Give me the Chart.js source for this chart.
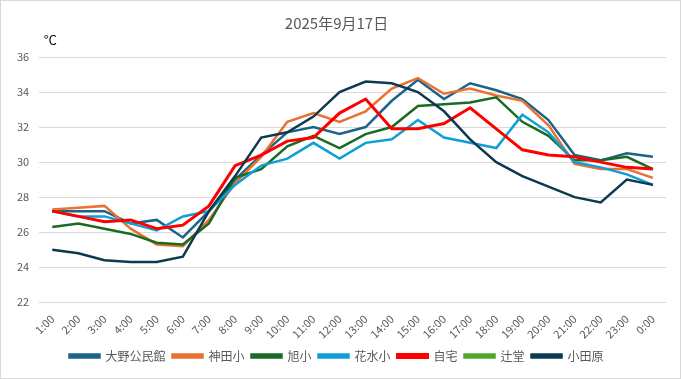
<!DOCTYPE html>
<html>
<head>
<meta charset="utf-8">
<script src="https://cdn.jsdelivr.net/npm/chart.js@4.4.1/dist/chart.umd.min.js"></script>
<style>
  html, body { margin: 0; padding: 0; background: #fff; }
  #wrap { position: relative; width: 681px; height: 379px; box-sizing: border-box; border: 1px solid #d9d9d9; }
</style>
</head>
<body>
<div id="wrap"><canvas id="chart"></canvas></div>
<script>
const hours = ['1:00', '2:00', '3:00', '4:00', '5:00', '6:00', '7:00', '8:00', '9:00', '10:00', '11:00', '12:00',
  '13:00', '14:00', '15:00', '16:00', '17:00', '18:00', '19:00', '20:00', '21:00', '22:00', '23:00', '0:00']

const ohno = [27.2, 27.2, 27.2, 26.5, 26.7, 25.7, 27.2, 29.0, 30.4, 31.7, 32.0, 31.6,
  32.0, 33.5, 34.7, 33.6, 34.5, 34.1, 33.6, 32.4, 30.4, 30.1, 30.5, 30.3]
const kanda = [27.3, 27.4, 27.5, 26.2, 25.3, 25.2, 26.7, 28.8, 30.3, 32.3, 32.8, 32.3,
  32.9, 34.2, 34.8, 33.9, 34.2, 33.8, 33.5, 32.1, 29.9, 29.6, 29.6, 29.1]
const asahi = [26.3, 26.5, 26.2, 25.9, 25.4, 25.3, 26.5, 29.1, 29.6, 30.9, 31.5, 30.8,
  31.6, 32.0, 33.2, 33.3, 33.4, 33.7, 32.3, 31.5, 30.1, 30.1, 30.3, 29.6]
const hanamizu = [27.2, 26.9, 26.9, 26.5, 26.1, 26.9, 27.2, 28.7, 29.8, 30.2, 31.1, 30.2,
  31.1, 31.3, 32.4, 31.4, 31.1, 30.8, 32.7, 31.7, 30.0, 29.7, 29.3, 28.7]
const jitaku = [27.2, 26.9, 26.6, 26.7, 26.2, 26.4, 27.5, 29.8, 30.4, 31.2, 31.4, 32.8,
  33.6, 31.9, 31.9, 32.2, 33.1, 31.9, 30.7, 30.4, 30.3, 30.0, 29.7, 29.6]
// 辻堂 has no readings on this day
const tsujido = hours.map(() => null)
const odawara = [25.0, 24.8, 24.4, 24.3, 24.3, 24.6, 27.2, 29.2, 31.4, 31.7, 32.6, 34.0,
  34.6, 34.5, 34.0, 32.9, 31.3, 30.0, 29.2, 28.6, 28.0, 27.7, 29.0, 28.7]

const series = [
  { label: '大野公民館', data: ohno, color: '#1B6489' },
  { label: '神田小', data: kanda, color: '#E97132' },
  { label: '旭小', data: asahi, color: '#196B24' },
  { label: '花水小', data: hanamizu, color: '#0F9ED5' },
  { label: '自宅', data: jitaku, color: '#FF0000' },
  { label: '辻堂', data: tsujido, color: '#4EA72E' },
  { label: '小田原', data: odawara, color: '#0E3A50' }
]

const fontFamily = '"Noto Sans CJK JP", "Noto Sans", sans-serif'

// the unit label sits above the y axis, not rotated
const unitLabel = {
  id: 'unitLabel',
  afterDraw(chart) {
    const { ctx, chartArea } = chart
    ctx.save()
    ctx.fillStyle = '#000'
    ctx.font = '13px ' + fontFamily
    ctx.textAlign = 'center'
    ctx.textBaseline = 'middle'
    ctx.fillText('°C', chartArea.left + 11, chartArea.top - 17)
    ctx.restore()
  }
}

const datasets = series.map((s, i) => ({
  label: s.label,
  data: s.data,
  borderColor: s.color,
  backgroundColor: s.color,
  borderWidth: s.label === '自宅' ? 3 : 2.5,
  pointRadius: 0,
  tension: 0,
  order: series.length - i
}))

new Chart(document.getElementById('chart'), {
  type: 'line',
  data: { labels: hours, datasets },
  options: {
    responsive: true,
    maintainAspectRatio: false,
    animation: false,
    layout: { padding: { left: 6, right: 14, top: 5, bottom: 6 } },
    plugins: {
      title: {
        display: true,
        text: '2025年9月17日',
        color: '#595959',
        font: { family: fontFamily, size: 15, weight: 'normal' },
        padding: { top: 8, bottom: 25 }
      },
      legend: {
        position: 'bottom',
        labels: {
          boxWidth: 30,
          boxHeight: 3,
          color: '#595959',
          font: { family: fontFamily, size: 12 },
          padding: 7,
          sort: (a, b) => a.datasetIndex - b.datasetIndex
        }
      },
      tooltip: { enabled: false }
    },
    scales: {
      x: {
        offset: true,
        grid: { display: false },
        border: { display: false },
        ticks: {
          autoSkip: false,
          minRotation: 45,
          maxRotation: 45,
          padding: 2,
          color: '#595959',
          font: { family: fontFamily, size: 11 }
        }
      },
      y: {
        min: 22,
        max: 36,
        grid: { color: '#d9d9d9', drawTicks: false },
        border: { display: false },
        ticks: {
          stepSize: 2,
          padding: 10,
          color: '#595959',
          font: { family: fontFamily, size: 11 }
        }
      }
    }
  },
  plugins: [unitLabel]
})
</script>
</body>
</html>
